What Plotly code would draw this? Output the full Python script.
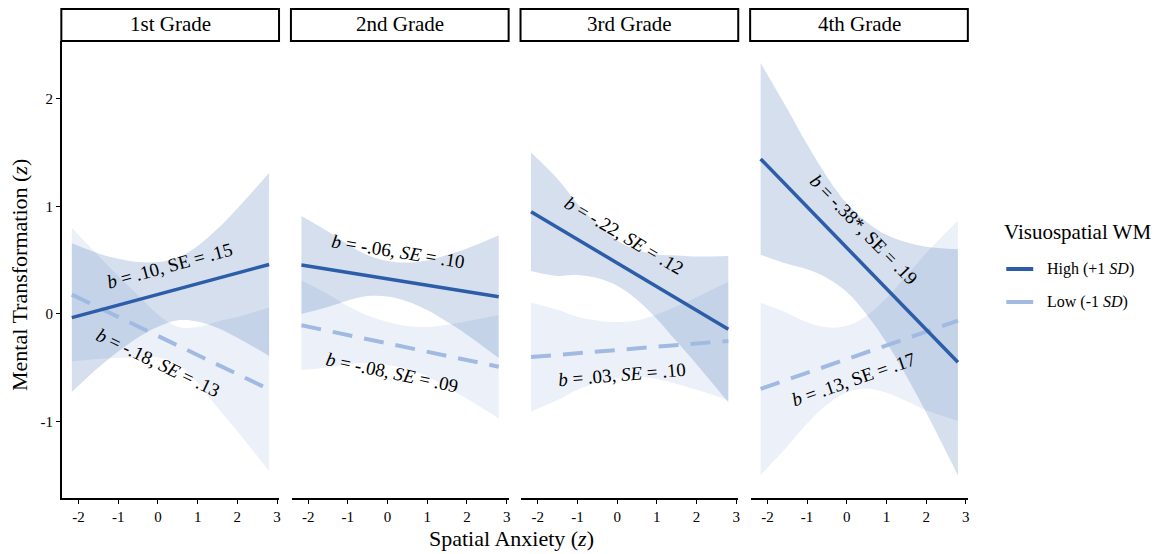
import numpy as np
import plotly.graph_objects as go

# ---------------- data ----------------
grades = ["1st Grade", "2nd Grade", "3rd Grade", "4th Grade"]
x_start, x_end = -2.17, 2.8

# fitted simple-slope lines (value at x_start, value at x_end)
high_start = [-0.034, 0.455, 0.95, 1.44]
high_end = [0.46, 0.161, -0.142, -0.449]
low_start = [0.18, -0.105, -0.40, -0.696]
low_end = [-0.70, -0.49, -0.25, -0.062]

# confidence-band half widths read at these x positions
band_x = [-2.17, -1.5, -1.0, -0.5, 0.0, 0.5, 1.0, 1.5, 2.0, 2.8]
high_halfwidth = [
    [0.69, 0.53, 0.43, 0.35, 0.30, 0.29, 0.35, 0.46, 0.60, 0.85],
    [0.455, 0.35, 0.26, 0.19, 0.165, 0.18, 0.23, 0.31, 0.40, 0.57],
    [0.55, 0.45, 0.33, 0.25, 0.21, 0.23, 0.30, 0.40, 0.50, 0.68],
    [0.89, 0.72, 0.58, 0.47, 0.41, 0.43, 0.50, 0.62, 0.77, 1.05],
]
low_halfwidth = [
    [0.62, 0.48, 0.38, 0.29, 0.20, 0.175, 0.26, 0.40, 0.53, 0.76],
    [0.415, 0.34, 0.27, 0.22, 0.20, 0.20, 0.23, 0.29, 0.36, 0.48],
    [0.505, 0.42, 0.34, 0.29, 0.26, 0.26, 0.30, 0.36, 0.43, 0.55],
    [0.80, 0.62, 0.47, 0.36, 0.31, 0.34, 0.44, 0.58, 0.73, 0.93],
]

high_labels = [
    "<i>b</i> = .10, SE = .15",
    "<i>b</i> = -.06, <i>SE</i> = .10",
    "<i>b</i> = -.22, <i>SE</i> = .12",
    "<i>b</i> = -.38*, SE = .19",
]
low_labels = [
    "<i>b</i> = -.18, <i>SE</i> = .13",
    "<i>b</i> = -.08, <i>SE</i> = .09",
    "<i>b</i> = .03, <i>SE</i> = .10",
    "<i>b</i> = .13, SE = .17",
]
x_ticks = [-2, -1, 0, 1, 2, 3]
y_ticks = [-1, 0, 1, 2]

# ---------------- style / layout ----------------
OFF = 8  # page body margin
W, H = 1164 - OFF, 554 - OFF
FONT = "Liberation Serif"
HIGH_COL = "rgb(44,93,168)"
LOW_COL = "rgb(160,186,226)"
HIGH_FILL = "rgba(44,93,168,0.2)"
LOW_FILL = "rgba(160,186,226,0.2)"

XR = [-2.42, 3.05]
YR = [-1.706, 2.535]
panel_left = [62 - OFF, 292 - OFF, 522 - OFF, 752 - OFF]
panel_w = 217.5
top_px, bot_px = 41 - OFF, 497.7 - OFF


def py(p):  # reference page pixel (y) -> paper fraction
    return (H - (p - OFF)) / H


def px(p):  # reference page pixel (x) -> paper fraction
    return (p - OFF) / W


# label positions (data coords) — layout only
high_lab_pos = [(0.30, 0.45), (0.27, 0.58), (0.18, 0.73), (0.42, 0.78)]
low_lab_pos = [(0.00, -0.45), (0.12, -0.54), (0.12, -0.565), (0.16, -0.61)]

px_per_x = panel_w / (XR[1] - XR[0])
px_per_y = (bot_px - top_px) / (YR[1] - YR[0])


def angle(y0, y1):
    s = (y1 - y0) / (x_end - x_start)
    return -np.degrees(np.arctan(s * px_per_y / px_per_x))


fig = go.Figure()
annotations = []
shapes = []
bx = np.array(band_x)

for k in range(4):
    xa = "x" if k == 0 else f"x{k+1}"
    ya = "y" if k == 0 else f"y{k+1}"
    hl = np.interp(bx, [x_start, x_end], [high_start[k], high_end[k]])
    ll = np.interp(bx, [x_start, x_end], [low_start[k], low_end[k]])
    hw = np.array(high_halfwidth[k])
    lw = np.array(low_halfwidth[k])
    # low band
    fig.add_trace(go.Scatter(x=band_x, y=ll - lw, mode="lines", line=dict(width=0, shape="spline"),
                             xaxis=xa, yaxis=ya, showlegend=False, hoverinfo="skip"))
    fig.add_trace(go.Scatter(x=band_x, y=ll + lw, mode="lines", line=dict(width=0, shape="spline"),
                             fill="tonexty", fillcolor=LOW_FILL,
                             xaxis=xa, yaxis=ya, showlegend=False, hoverinfo="skip"))
    # high band
    fig.add_trace(go.Scatter(x=band_x, y=hl - hw, mode="lines", line=dict(width=0, shape="spline"),
                             xaxis=xa, yaxis=ya, showlegend=False, hoverinfo="skip"))
    fig.add_trace(go.Scatter(x=band_x, y=hl + hw, mode="lines", line=dict(width=0, shape="spline"),
                             fill="tonexty", fillcolor=HIGH_FILL,
                             xaxis=xa, yaxis=ya, showlegend=False, hoverinfo="skip"))
    # lines
    fig.add_trace(go.Scatter(x=[x_start, x_end], y=[low_start[k], low_end[k]], mode="lines",
                             line=dict(color=LOW_COL, width=4, dash="20px,12px"),
                             xaxis=xa, yaxis=ya, showlegend=False))
    fig.add_trace(go.Scatter(x=[x_start, x_end], y=[high_start[k], high_end[k]], mode="lines",
                             line=dict(color=HIGH_COL, width=3.5),
                             xaxis=xa, yaxis=ya, showlegend=False))

    # labels
    annotations.append(dict(x=high_lab_pos[k][0], y=high_lab_pos[k][1], xref=xa, yref=ya,
                            text=high_labels[k], showarrow=False,
                            textangle=angle(high_start[k], high_end[k]),
                            font=dict(family=FONT, size=19, color="black")))
    annotations.append(dict(x=low_lab_pos[k][0], y=low_lab_pos[k][1], xref=xa, yref=ya,
                            text=low_labels[k], showarrow=False,
                            textangle=angle(low_start[k], low_end[k]),
                            font=dict(family=FONT, size=19, color="black")))

    # axes
    d0 = panel_left[k] / W
    d1 = (panel_left[k] + panel_w) / W
    yd = [(H - bot_px) / H, (H - top_px) / H]
    fig.layout[("xaxis" if k == 0 else f"xaxis{k+1}")] = dict(
        domain=[d0, d1], range=XR, anchor=ya, tickvals=x_ticks,
        ticktext=[str(t) for t in x_ticks],
        ticks="outside", ticklen=4, tickwidth=1.3, tickcolor="black",
        showline=True, linecolor="black", linewidth=2, showgrid=False, zeroline=False,
        tickfont=dict(family=FONT, size=15, color="black"))
    fig.layout[("yaxis" if k == 0 else f"yaxis{k+1}")] = dict(
        domain=yd, range=YR, anchor=xa, tickvals=y_ticks,
        ticktext=[str(t) for t in y_ticks],
        ticks="outside" if k == 0 else "", ticklen=4, tickwidth=1.3, tickcolor="black",
        showticklabels=(k == 0), showline=(k == 0), linecolor="black", linewidth=2,
        showgrid=False, zeroline=False,
        tickfont=dict(family=FONT, size=15, color="black"))

    # strip
    shapes.append(dict(type="rect", xref="paper", yref="paper",
                       x0=d0 - 0.0005, x1=d1, y0=py(41), y1=(H - 1) / H,
                       line=dict(color="black", width=2), fillcolor="white"))
    annotations.append(dict(x=(d0 + d1) / 2, y=py(24), xref="paper", yref="paper",
                            text=grades[k], showarrow=False, xanchor="center", yanchor="middle",
                            font=dict(family=FONT, size=21, color="black")))

# axis titles
annotations.append(dict(x=px(19), y=py(275), xref="paper", yref="paper",
                        text="Mental Transformation (<i>z</i>)", showarrow=False, textangle=-90,
                        xanchor="center", yanchor="middle",
                        font=dict(family=FONT, size=22, color="black")))
annotations.append(dict(x=px(512), y=py(538), xref="paper", yref="paper",
                        text="Spatial Anxiety (<i>z</i>)", showarrow=False,
                        xanchor="center", yanchor="middle",
                        font=dict(family=FONT, size=22, color="black")))

# legend (manual)
annotations.append(dict(x=px(1004), y=py(232), xref="paper", yref="paper",
                        text="Visuospatial WM", showarrow=False, xanchor="left", yanchor="middle",
                        font=dict(family=FONT, size=21, color="black")))
for txt, col, ypx in [("High (+1 <i>SD</i>)", HIGH_COL, 269), ("Low (-1 <i>SD</i>)", LOW_COL, 302)]:
    shapes.append(dict(type="line", xref="paper", yref="paper",
                       x0=px(1008), x1=px(1035), y0=py(ypx), y1=py(ypx),
                       line=dict(color=col, width=4)))
    annotations.append(dict(x=px(1047), y=py(ypx), xref="paper", yref="paper",
                            text=txt, showarrow=False, xanchor="left", yanchor="middle",
                            font=dict(family=FONT, size=16, color="black")))

fig.update_layout(width=W, height=H, margin=dict(l=0, r=0, t=0, b=0),
                  paper_bgcolor="white", plot_bgcolor="white",
                  showlegend=False, annotations=annotations, shapes=shapes,
                  font=dict(family=FONT, color="black"))
fig.write_html("out.html")
